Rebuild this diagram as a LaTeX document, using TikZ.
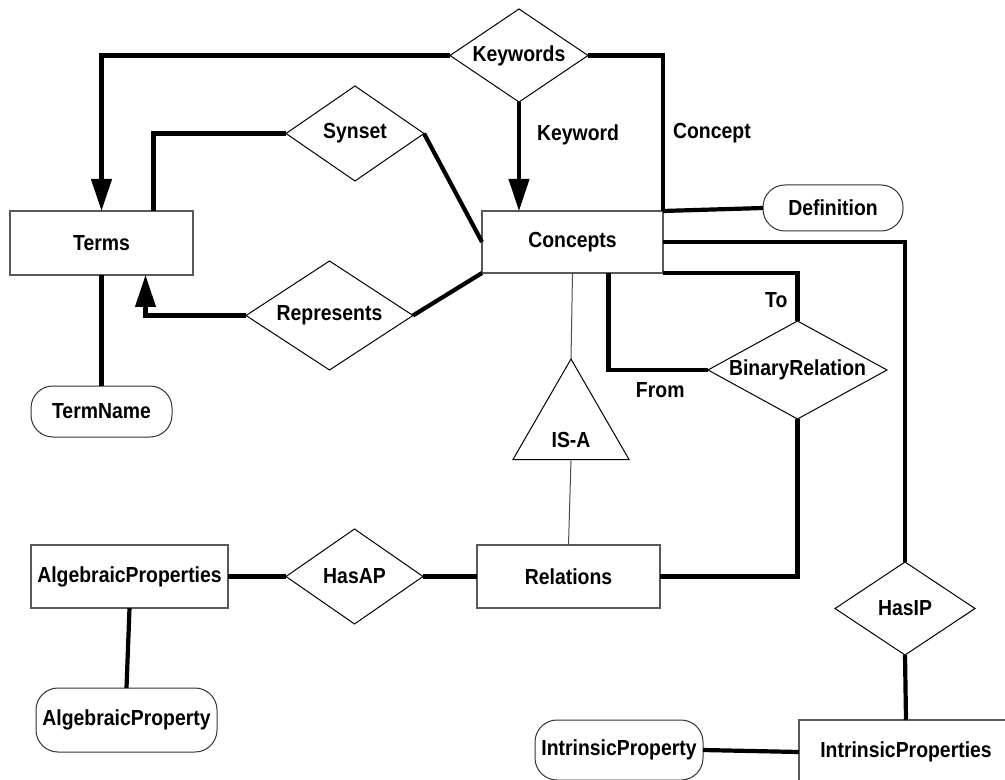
\documentclass[tikz,border=0pt]{standalone}
\usepackage{fontspec}
\setmainfont{Liberation Sans}[FakeStretch=0.89]
\usetikzlibrary{shapes.geometric,arrows.meta}

\begin{document}
\begin{tikzpicture}[x=0.5pt,y=-0.5pt,
    font=\fontsize{10.9}{12}\selectfont\bfseries,
    entity/.style={draw=black!65,line width=0.6pt,inner sep=0pt,outer sep=0pt,minimum height=31.5pt},
    attrib/.style={draw=black!80,line width=0.5pt,rounded corners=11pt,inner sep=0pt,outer sep=0pt},
    relship/.style={draw,diamond,aspect=1.6,line width=0.5pt,inner sep=0pt,outer sep=0pt},
    isa/.style={draw,regular polygon,regular polygon sides=3,minimum size=67pt,line width=0.5pt,inner sep=0pt,outer sep=0pt},
    link/.style={line width=2.1pt},
    thinlink/.style={line width=0.5pt,draw=black!70},
    arrowlink/.style={link,-{Triangle[length=16pt,width=10pt]}},
    lbl/.style={inner sep=2pt}]

    \clip (0,0) rectangle (1005,780);

    %draw entities:
    \node[entity,minimum width=91.5pt,minimum height=32pt] (terms) at (101.5,243) {Terms};
    \node[entity,minimum width=90.5pt,minimum height=31pt] (concepts) at (572.5,242) {Concepts};
    \node[entity,minimum width=91.5pt] (relations) at (568.5,576.5) {Relations};
    \node[entity,minimum width=98.5pt] (algprops) at (129.5,576.5) {AlgebraicProperties};
    \node[entity,minimum width=107pt,minimum height=32pt] (intprops) at (906,752) {IntrinsicProperties};

    %draw attributes:
    \node[attrib,minimum width=70.5pt,minimum height=25.5pt] (termname) at (101.5,411.5) {TermName};
    \node[attrib,minimum width=70pt,minimum height=23pt] (definition) at (833,208) {Definition};
    \node[attrib,minimum width=90.5pt,minimum height=32pt] (algprop) at (126.5,720) {AlgebraicProperty};
    \node[attrib,minimum width=84pt,minimum height=30pt] (intprop) at (619,750) {IntrinsicProperty};

    %draw relationships:
    \node[relship,minimum width=69pt,minimum height=46.5pt] (keywords) at (519,55.5) {Keywords};
    \node[relship,minimum width=69pt,minimum height=47.5pt] (synset) at (355,133.5) {Synset};
    \node[relship,minimum width=83.5pt,minimum height=54.5pt] (represents) at (329.5,315.5) {Represents};
    \node[relship,aspect=1.83,minimum width=89.5pt,minimum height=49pt] (binrel) at (797.5,370) {BinaryRelation};
    \node[relship,minimum width=68.5pt,minimum height=47.5pt] (hasap) at (354.5,576.5) {HasAP};
    \node[relship,minimum width=70pt,minimum height=46.5pt] (hasip) at (905,608.5) {HasIP};
    \node[isa,label={[yshift=-7pt]center:IS-A}] (isa) at (571,426) {};

    %draw links:
    \draw[arrowlink] (keywords.west) -| (terms.north);
    \draw[arrowlink] (keywords.south) -- (keywords.south |- concepts.north)
        node[lbl,right=6pt,pos=0.3] {Keyword};
    \draw[link] (keywords.east) -| (concepts.north east)
        node[lbl,right=2pt,pos=0.75] {Concept};
    \draw[link] ([xshift=26pt]terms.north) |- (synset.west);
    \draw[link] (synset.east) -- (concepts.west);
    \draw[arrowlink] (represents.west) -| ([xshift=22pt]terms.south);
    \draw[link] (represents.east) -- (concepts.south west);
    \draw[link] (terms.south) -- (termname.north);
    \draw[link] (concepts.north east) -- (definition.west);
    \draw[link] (concepts.east) -| (hasip.north);
    \draw[link] (concepts.south east) -| (binrel.north)
        node[lbl,left=2pt,pos=0.78] {To};
    \draw[link] ([xshift=18pt]concepts.south) |- (binrel.west)
        node[lbl,below=3pt,pos=0.76] {From};
    \draw[thinlink] (concepts.south) -- (isa.north);
    \draw[thinlink] (isa.south) -- (relations.north);
    \draw[link] (binrel.south) |- (relations.east);
    \draw[link] (algprops.east) -- (hasap.west);
    \draw[link] (hasap.east) -- (relations.west);
    \draw[link] (algprops.south) -- (algprop.north);
    \draw[link] (hasip.south) -- (intprops.north);
    \draw[link] (intprop.east) -- (intprops.west);

\end{tikzpicture}
\end{document}
